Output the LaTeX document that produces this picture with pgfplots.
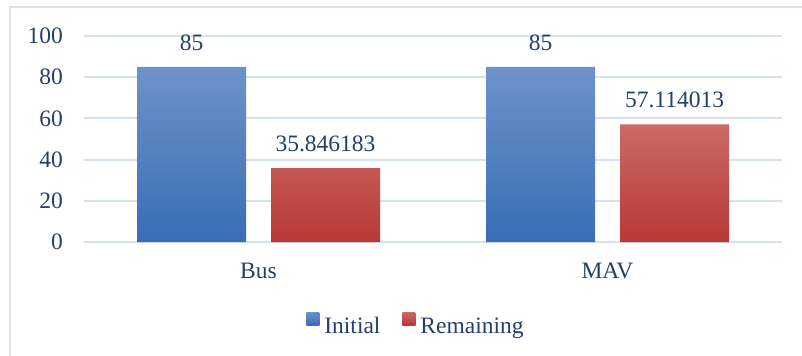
\documentclass[border=0pt]{standalone}
\usepackage{pgfplots}
\pgfplotsset{compat=1.18}
\usepackage{fontspec}
\setmainfont{Liberation Serif}
\definecolor{txt}{HTML}{243F6C}
\definecolor{gridc}{HTML}{D6E1F2}
\definecolor{bordc}{HTML}{D9E3F3}
\definecolor{blueT}{HTML}{6C93CA}
\definecolor{blueB}{HTML}{3A6DB5}
\definecolor{redT}{HTML}{CB6A66}
\definecolor{redB}{HTML}{B83836}
\newcommand\fs{\fontsize{23.5bp}{28bp}\selectfont}
\begin{document}
\begin{tikzpicture}[font=\fs]
\useasboundingbox (0,0) rectangle (802bp,356bp);
\draw[bordc, line width=2bp] (10bp,-5bp) -- (10bp,349bp) -- (810bp,349bp);
\begin{axis}[
  at={(84bp,114bp)}, anchor=south west,
  scale only axis, width=698bp, height=206bp,
  xmin=-0.5, xmax=1.5, ymin=0, ymax=100,
  xtick={0,1}, xticklabels={Bus,MAV},
  ytick={0,20,40,60,80,100},
  axis line style={draw=none},
  major tick length=0pt,
  tick style={draw=none},
  ymajorgrids, xmajorgrids=false,
  grid style={gridc, line width=2bp},
  tick label style={font=\fs, text=txt},
  xticklabel style={anchor=base, inner sep=0pt, yshift=-36bp},
  yticklabel style={anchor=east, inner sep=0pt, xshift=-21bp},
  /pgf/number format/assume math mode=true,
  clip=false,
  legend style={at={(0.4742,-0.3956)}, anchor=center, draw=none, fill=none,
    inner sep=0pt, legend columns=-1, font=\fs, text=txt,
    nodes={inner sep=0pt},
    /tikz/every odd column/.append style={column sep=5bp},
    /tikz/every even column/.append style={column sep=22bp}},
]
\addplot[ybar, bar width=109bp, bar shift=-67bp, draw=none,
  top color=blueT, bottom color=blueB,
  nodes near coords, point meta=explicit symbolic,
  every node near coord/.append style={anchor=south, text=txt, font=\fs, inner sep=0pt, yshift=16bp, xshift=-67bp},
  legend image code/.code={\shade[top color=blueT,bottom color=blueB] (0bp,1bp) rectangle (13bp,14bp);}]
  coordinates {(0,85) [85] (1,85) [85]};
\addlegendentry{Initial}
\addplot[ybar, bar width=109bp, bar shift=67bp, draw=none,
  top color=redT, bottom color=redB,
  nodes near coords, point meta=explicit symbolic,
  every node near coord/.append style={anchor=south, text=txt, font=\fs, inner sep=0pt, yshift=16bp, xshift=67bp},
  legend image code/.code={\shade[top color=redT,bottom color=redB] (0bp,1bp) rectangle (13bp,14bp);}]
  coordinates {(0,35.846183) [35.846183] (1,57.114013) [57.114013]};
\addlegendentry{Remaining}
\end{axis}
\end{tikzpicture}
\end{document}
